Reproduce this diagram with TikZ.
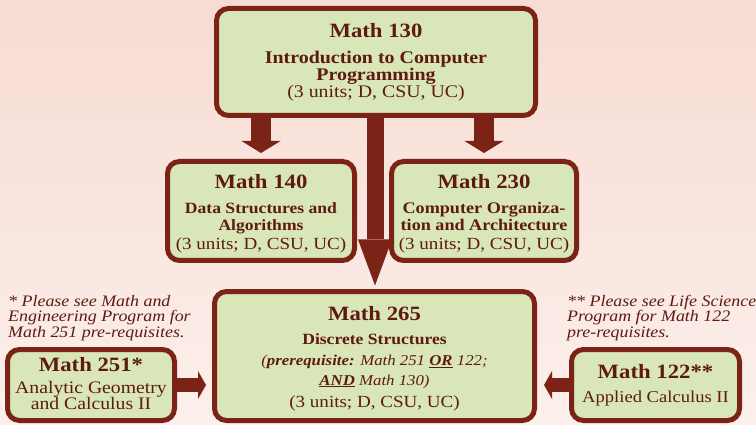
\documentclass[tikz,border=0pt]{standalone}
\usepackage{fontspec}
\setmainfont[FakeStretch=1.12]{Liberation Serif}
\usetikzlibrary{arrows.meta}
\definecolor{bgtop}{HTML}{F7DCD3}
\definecolor{bgbot}{HTML}{FCEFEB}
\definecolor{rim}{HTML}{7B2316}
\definecolor{leaf}{HTML}{D9E6B7}
\definecolor{ink}{HTML}{5E1A12}
\newcommand{\crs}[2][14pt]{{\fontsize{20.3}{22}\selectfont\bfseries\rule{0pt}{#1}#2}}
\newcommand{\crsname}[2][15.7]{{\fontsize{#1}{17}\selectfont\bfseries #2}}
\newcommand{\crsunits}[1][17]{{\fontsize{#1}{17}\selectfont (3 units; D, CSU, UC)}}
\newcommand{\crsline}[2][17.6]{{\fontsize{#1}{17}\selectfont #2}}
\newcommand{\prq}[1]{{\fontsize{15}{17}\selectfont\itshape #1}}

\begin{document}
\begin{tikzpicture}[x=1pt, y=-1pt,
    course/.style={draw=rim, line width=5pt, fill=leaf, rounded corners=12pt,
      text=ink, align=center, inner sep=0pt, font=\fontsize{16}{17}\selectfont},
    note/.style={text=ink, align=left, inner sep=0pt, anchor=base west,
      font=\fontsize{16}{15.5}\selectfont\itshape},
    fat/.style={draw=rim, line width=20pt, shorten >=6pt,
      -{Triangle[width=39pt, length=12pt, line width=0pt]}},
    long/.style={draw=rim, line width=17pt, shorten >=3.5pt,
      -{Triangle[width=34pt, length=46pt, line width=0pt]}},
    side/.style={draw=rim, line width=14pt,
      -{Triangle[width=28pt, length=8pt, line width=0pt]}}]
    \shade [top color=bgtop, bottom color=bgbot] (0, 0) rectangle (756, 425);
    \useasboundingbox (0, 0) rectangle (756, 425);
    \clip (0, 0) rectangle (756, 425);

    \node [course, minimum width=319, minimum height=107] (m130) at (376, 62)
      {\crs{Math 130}\\[9pt] \crsname[17.8]{Introduction to Computer}\\ \crsname[17.8]{Programming}\\ \crsunits[17.7]};
    \node [course, minimum width=187, minimum height=99] (m140) at (261, 211)
      {\crs[19pt]{Math 140}\\[8pt] \crsname{Data Structures and}\\ \crsname{Algorithms}\\[2pt] \crsunits};
    \node [course, minimum width=185, minimum height=99] (m230) at (484, 211)
      {\crs[19pt]{Math 230}\\[8pt] \crsname[16.2]{Computer Organiza-}\\ \crsname[16.2]{tion and Architecture}\\[2pt] \crsunits};
    \node [course, minimum width=320, minimum height=129] (m265) at (374.5, 356)
      {\crs[19pt]{Math 265}\\[7pt] \crsname{Discrete Structures}\\[4pt]
       \prq{(\textbf{prerequisite:} Math 251 \underline{\textbf{OR}} 122;}\\[3pt]
       \prq{\underline{\textbf{AND}} Math 130)}\\[5pt] \crsunits};
    \node [course, minimum width=167, minimum height=71] (m251) at (91, 385)
      {\crs{Math 251*}\\[5pt] \crsline{Analytic Geometry}\\[-1pt] \crsline{and Calculus II}\rule[-4pt]{0pt}{4pt}};
    \node [course, minimum width=168, minimum height=71] (m122) at (655.5, 385)
      {\crs{Math 122**}\\[7pt] \crsline[16.6]{Applied Calculus II}};

    \node [note] (n251) at (8, 337) {* Please see Math and\\ Engineering Program for\\ Math 251 pre-requisites.};
    \node [note] (n122) at (567, 337) {** Please see Life Science\\ Program for Math 122\\ pre-requisites.};

    \draw [fat] (m130.south -| m140.north) -- (m140.north);
    \draw [fat] (m130.south -| m230.north) -- (m230.north);
    \draw [long] ([xshift=-1pt]m130.south) -- ([xshift=-1pt]m130.south |- m265.north);
    \draw [side, shorten >=6pt] (m251.east) -- (m251.east -| m265.west);
    \draw [side, shorten >=7pt] (m122.west) -- (m122.west -| m265.east);
  \end{tikzpicture}
\end{document}
